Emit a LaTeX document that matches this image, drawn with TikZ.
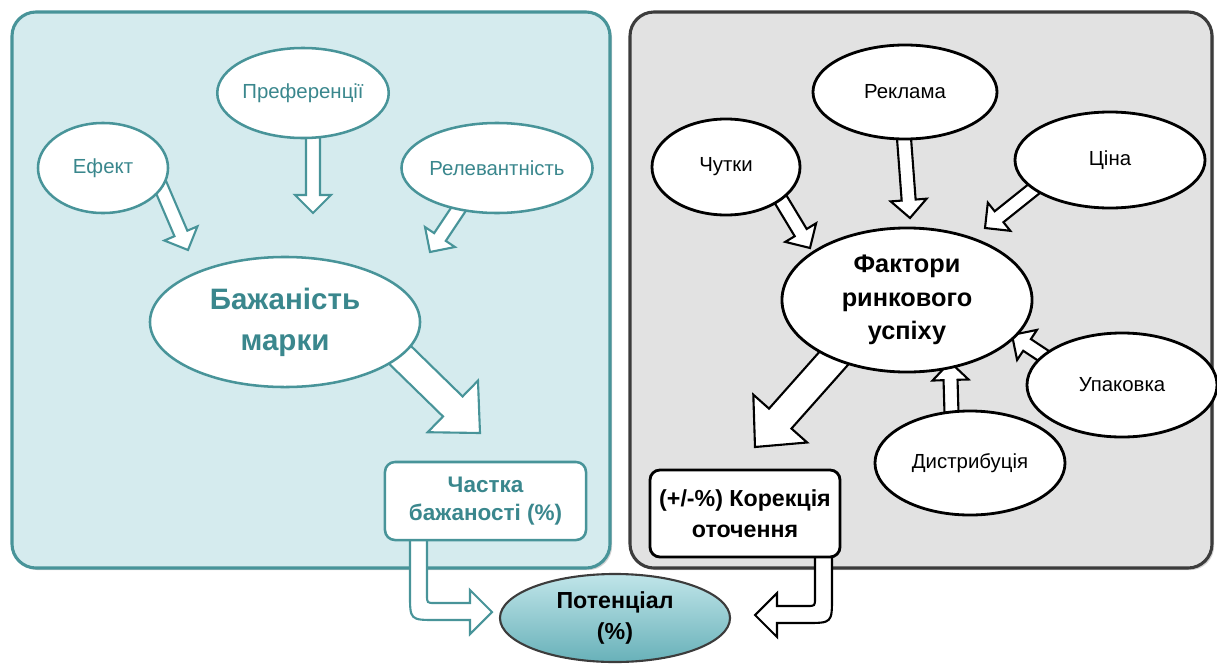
\documentclass[tikz,border=0pt]{standalone}
\usepackage{fontspec}
\setmainfont{Liberation Sans}
\usetikzlibrary{shapes.geometric,calc,shadows}

\definecolor{tealline}{RGB}{72,148,153}
\definecolor{tealtext}{RGB}{58,135,141}
\definecolor{tealpanel}{RGB}{213,235,238}
\definecolor{greypanel}{RGB}{226,226,226}
\definecolor{greyline}{RGB}{60,60,60}
\definecolor{pottop}{RGB}{192,229,233}
\definecolor{potbottom}{RGB}{104,177,185}

\pgfdeclarelayer{back}
\pgfdeclarelayer{arrows}
\pgfsetlayers{back,arrows,main}

\tikzset{
  tealoval/.style={ellipse, draw=tealline, line width=1.8pt, fill=white, text=tealtext,
    inner sep=0pt, font=\fontsize{14.5}{17}\selectfont},
  blackoval/.style={ellipse, draw=black, line width=2pt, fill=white,
    inner sep=0pt, font=\fontsize{14.5}{17}\selectfont},
  tealbox/.style={rectangle, rounded corners=0.25cm, draw=tealline, line width=1.8pt, fill=white,
    text=tealtext, align=center, font=\fontsize{16}{20}\selectfont\bfseries},
  blackbox/.style={rectangle, rounded corners=0.25cm, draw=black, line width=2pt, fill=white,
    align=center, font=\fontsize{16.5}{22}\selectfont\bfseries},
  tealarrow/.style={draw=tealline, line width=1.5pt, fill=white, line join=miter},
  blackarrow/.style={draw=black, line width=1.5pt, fill=white, line join=miter},
}

% hollow block arrow: [style]{from}{tip}{shaft half width}{head half width}{head length}
\newcommand{\fatarrow}[6][]{%
  \coordinate (fa-base) at ($(#3)!#6!(#2)$);
  \draw[#1] ($(#2)!#4!90:(#3)$) -- ($(fa-base)!#4!-90:(#2)$) -- ($(fa-base)!#5!-90:(#2)$)
    -- (#3) -- ($(fa-base)!#5!90:(#2)$) -- ($(fa-base)!#4!90:(#2)$) -- ($(#2)!#4!-90:(#3)$) -- cycle;}

\begin{document}
\begin{tikzpicture}[x=0.025cm, y=-0.025cm]
  \useasboundingbox (0,0) rectangle (1217,665);

  % panels
  \begin{pgfonlayer}{back}
    \draw[rounded corners=0.6cm, draw=tealline, line width=2.2pt, fill=tealpanel,
      drop shadow={shadow xshift=1.5pt, shadow yshift=-1.5pt, opacity=0.35}] (12,12) rectangle (610,568);
    \draw[rounded corners=0.6cm, draw=greyline, line width=2.2pt, fill=greypanel,
      drop shadow={shadow xshift=1.5pt, shadow yshift=-1.5pt, opacity=0.35}] (630,12) rectangle (1212,568);
  \end{pgfonlayer}

  % left side
  \node[tealoval, minimum width=4.25cm, minimum height=2.25cm] (pref) at (303,93) {Преференції};
  \node[tealoval, minimum width=3.25cm, minimum height=2.25cm] (efekt) at (103,168) {Ефект};
  \node[tealoval, minimum width=4.6cm, minimum height=2.25cm] (relev) at (497,168) {Релевантність};
  \node[tealoval, minimum width=6.75cm, minimum height=3.25cm, align=center,
    font=\fontsize{21}{29}\selectfont\bfseries] (bazh) at (285,322) {Бажаність\\марки};
  \node[tealbox, minimum width=5.025cm, minimum height=1.95cm] (chastka) at (485.5,501) {Частка\\бажаності (\%)};

  % right side
  \node[blackoval, minimum width=3.7cm, minimum height=2.4cm] (chutky) at (726,167) {Чутки};
  \node[blackoval, minimum width=4.6cm, minimum height=2.35cm] (reklama) at (905,92) {Реклама};
  \node[blackoval, minimum width=4.75cm, minimum height=2.4cm] (tsina) at (1110,160) {Ціна};
  \node[blackoval, minimum width=6.25cm, minimum height=3.6cm, align=center,
    font=\fontsize{18}{24}\selectfont\bfseries] (faktory) at (907,300) {Фактори\\ринкового\\успіху};
  \node[blackoval, minimum width=4.75cm, minimum height=2.6cm] (upak) at (1122,385) {Упаковка};
  \node[blackoval, minimum width=4.75cm, minimum height=2.6cm] (dystr) at (970,463) {Дистрибуція};
  \node[blackbox, minimum width=4.75cm, minimum height=2.175cm] (korek) at (745,513.5) {(+/-\%) Корекція\\оточення};

  % result
  \node[ellipse, draw=greyline, line width=1.5pt, top color=pottop, bottom color=potbottom,
    minimum width=5.75cm, minimum height=2.2cm, inner sep=0pt, align=center,
    font=\fontsize{16.5}{22}\selectfont\bfseries] (potents) at (615,618) {Потенціал\\(\%)};

  % arrow ends
  \coordinate (pref-s) at (313,130);   \coordinate (pref-t) at (313,213);
  \coordinate (efekt-s) at (158,180);  \coordinate (efekt-t) at (188,250);
  \coordinate (relev-s) at (468,195);  \coordinate (relev-t) at (430,252);
  \coordinate (bazh-s) at (395,350);   \coordinate (bazh-t) at (480,433);
  \coordinate (rekl-s) at (903,125);   \coordinate (rekl-t) at (910,218);
  \coordinate (chut-s) at (775,190);   \coordinate (chut-t) at (810,248);
  \coordinate (tsin-s) at (1045,180);  \coordinate (tsin-t) at (985,228);
  \coordinate (fakt-s) at (850,340);   \coordinate (fakt-t) at (755,447);
  \coordinate (dyst-s) at (952,430);   \coordinate (dyst-t) at (950,362);
  \coordinate (upak-s) at (1065,370);  \coordinate (upak-t) at (1012,335);

  \begin{pgfonlayer}{arrows}
    \fatarrow[tealarrow]{pref-s}{pref-t}{0.175cm}{0.45cm}{0.45cm}
    \fatarrow[tealarrow]{efekt-s}{efekt-t}{0.175cm}{0.45cm}{0.45cm}
    \fatarrow[tealarrow]{relev-s}{relev-t}{0.175cm}{0.45cm}{0.45cm}
    \fatarrow[tealarrow]{bazh-s}{bazh-t}{0.35cm}{0.9cm}{0.95cm}
    \fatarrow[blackarrow]{rekl-s}{rekl-t}{0.175cm}{0.45cm}{0.45cm}
    \fatarrow[blackarrow]{chut-s}{chut-t}{0.175cm}{0.45cm}{0.45cm}
    \fatarrow[blackarrow]{tsin-s}{tsin-t}{0.175cm}{0.45cm}{0.45cm}
    \fatarrow[blackarrow]{fakt-s}{fakt-t}{0.375cm}{0.9cm}{0.95cm}
    \fatarrow[blackarrow]{dyst-s}{dyst-t}{0.175cm}{0.45cm}{0.45cm}
    \fatarrow[blackarrow]{upak-s}{upak-t}{0.175cm}{0.45cm}{0.45cm}
    % bent arrows into the result
    \draw[tealarrow] (410,530) -- (410,594) .. controls (410,620) .. (436,620) -- (470,620) -- (470,634)
      -- (492,612) -- (470,590) -- (470,603) -- (435,603) .. controls (427,603) .. (427,595) -- (427,530) -- cycle;
    \draw[blackarrow] (832,545) -- (832,597) .. controls (832,623) .. (806,623) -- (777,623) -- (777,637)
      -- (755,615) -- (777,593) -- (777,606) -- (807,606) .. controls (815,606) .. (815,598) -- (815,545) -- cycle;
  \end{pgfonlayer}
\end{tikzpicture}
\end{document}
